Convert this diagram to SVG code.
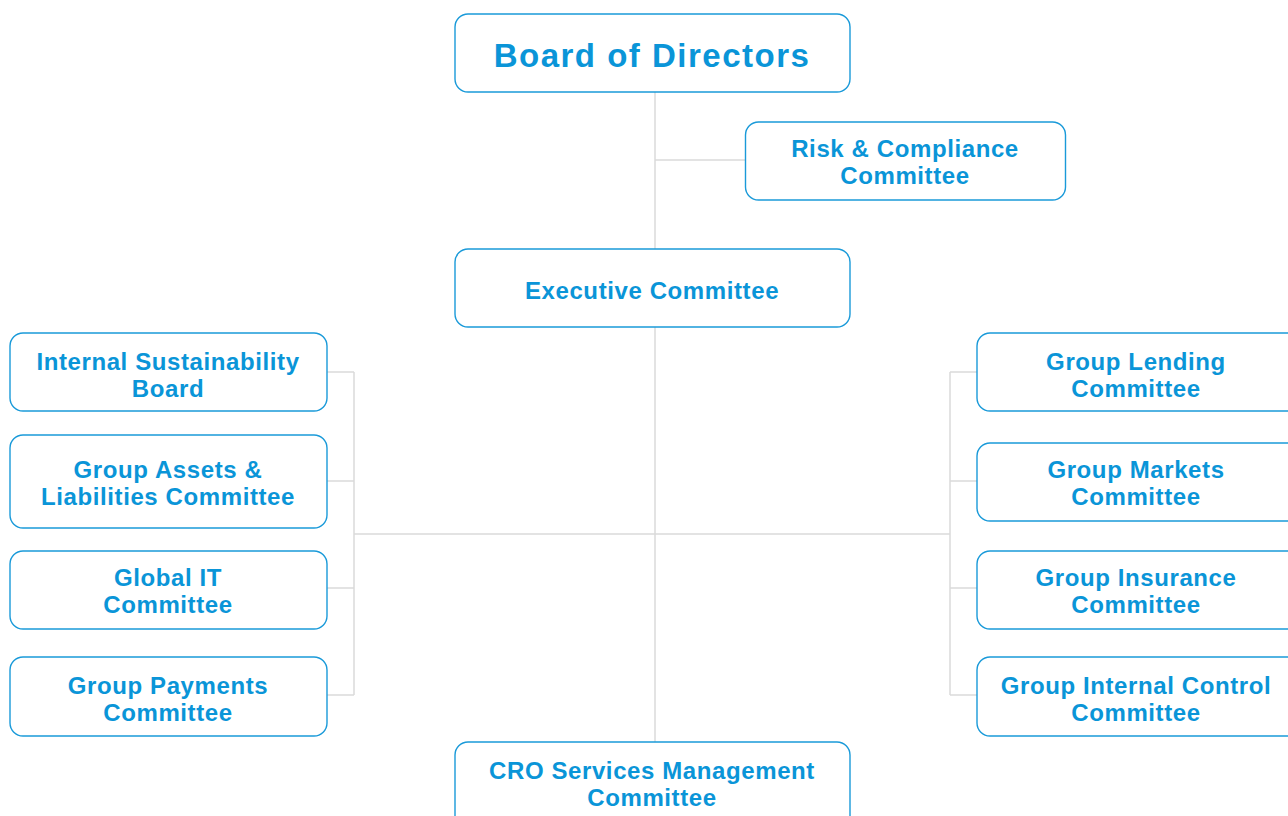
<svg xmlns="http://www.w3.org/2000/svg" width="1288" height="816" viewBox="0 0 1288 816">
<style>
.box{fill:#fff;stroke:#1a9ad9;stroke-width:1.4}
.t{font-family:"Liberation Sans",Arial,sans-serif;font-weight:700;fill:#0a95d8;font-size:24px;letter-spacing:0.6px;text-anchor:middle}
.big{font-size:33px;letter-spacing:1.5px}
.ln{stroke:#dadada;stroke-width:1.5;fill:none}
</style>
<rect width="1288" height="816" fill="#fff"/>
<g id="connectors">
<path class="ln" d="M655 92V742M655 160H745M354 534H950M354 372V695M327 372H354M327 481H354M327 588H354M327 695H354M950 372V695M950 372H977M950 481H977M950 588H977M950 695H977"/>
</g>
<g id="board"><rect class="box" x="455" y="14" width="395" height="78" rx="13"/><text class="t big" x="652" y="67">Board of Directors</text></g>
<g id="risk"><rect class="box" x="745.5" y="122" width="320" height="78" rx="13"/><text class="t" x="905" y="157">Risk &amp; Compliance</text><text class="t" x="905" y="184">Committee</text></g>
<g id="exec"><rect class="box" x="455" y="249" width="395" height="78" rx="13"/><text class="t" x="652" y="299">Executive Committee</text></g>
<g id="isb"><rect class="box" x="10" y="333" width="317" height="78" rx="13"/><text class="t" x="168" y="370">Internal Sustainability</text><text class="t" x="168" y="397">Board</text></g>
<g id="gal"><rect class="box" x="10" y="435" width="317" height="93" rx="13"/><text class="t" x="168" y="478">Group Assets &amp;</text><text class="t" x="168" y="505">Liabilities Committee</text></g>
<g id="git"><rect class="box" x="10" y="551" width="317" height="78" rx="13"/><text class="t" x="168" y="586">Global IT</text><text class="t" x="168" y="613">Committee</text></g>
<g id="gpc"><rect class="box" x="10" y="657" width="317" height="79" rx="13"/><text class="t" x="168" y="694">Group Payments</text><text class="t" x="168" y="721">Committee</text></g>
<g id="glc"><rect class="box" x="977" y="333" width="324" height="78" rx="13"/><text class="t" x="1136" y="370">Group Lending</text><text class="t" x="1136" y="397">Committee</text></g>
<g id="gmc"><rect class="box" x="977" y="443" width="324" height="78" rx="13"/><text class="t" x="1136" y="478">Group Markets</text><text class="t" x="1136" y="505">Committee</text></g>
<g id="gic"><rect class="box" x="977" y="551" width="324" height="78" rx="13"/><text class="t" x="1136" y="586">Group Insurance</text><text class="t" x="1136" y="613">Committee</text></g>
<g id="gicc"><rect class="box" x="977" y="657" width="324" height="79" rx="13"/><text class="t" x="1136" y="694">Group Internal Control</text><text class="t" x="1136" y="721">Committee</text></g>
<g id="cro"><rect class="box" x="455" y="742" width="395" height="90" rx="13"/><text class="t" x="652" y="779">CRO Services Management</text><text class="t" x="652" y="806">Committee</text></g>
</svg>
